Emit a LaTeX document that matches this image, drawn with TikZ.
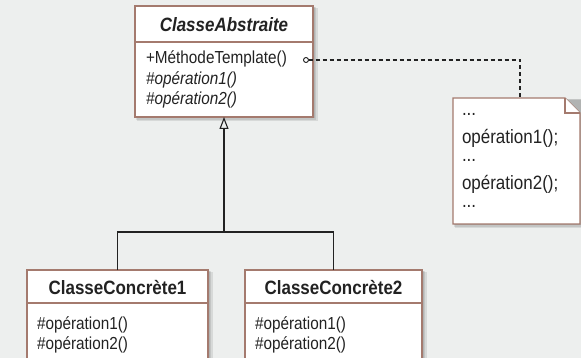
\documentclass[tikz,border=0pt]{standalone}
\usepackage{fontspec}
\setmainfont{Liberation Sans}[FakeStretch=0.88]
\usetikzlibrary{arrows.meta,shapes.misc}
\definecolor{bg}{HTML}{EDEFEE}
\definecolor{frame}{HTML}{A47A6E}
\definecolor{ink}{HTML}{222222}
\begin{document}
\begin{tikzpicture}[x=1pt,y=-1pt,
  every node/.style={inner sep=0pt, outer sep=0pt, text=ink},
  umlbox/.style={draw=frame, line width=1.2pt, fill=white, rectangle},
  shade/.style={fill=black, opacity=0.09},
  title/.style={font=\fontsize{19.3}{19}\selectfont\bfseries},
  member/.style={anchor=west, font=\fontsize{17.4}{18}\selectfont},
  notetext/.style={anchor=west, font=\fontsize{19.3}{19}\selectfont},
  link/.style={draw=ink, line width=1.1pt},
  hint/.style={draw=ink, line width=1.1pt, dash pattern=on 4pt off 3pt}]

% canvas
\fill[bg] (0,0) rectangle (581,358);
\useasboundingbox (0,0) rectangle (581,358);

% soft shadows under the boxes
\foreach \xa/\ya/\xb/\yb in {135/6/313/117, 27/270/208/362, 245/270/422/362, 453/98/580/224}{
  \fill[shade] (\xa+2,\ya+2) rectangle (\xb+4.5,\yb+4.5);
  \fill[shade] (\xa+1,\ya+1) rectangle (\xb+3,\yb+3);
  \fill[shade] (\xa+1,\ya+1) rectangle (\xb+1.5,\yb+1.5);
}

% abstract class
\node[umlbox, minimum width=178pt, minimum height=111pt] (abs) at (224,61.5) {};
\draw[frame, line width=1.2pt] (135,42) -- (313,42);
\node[title, font=\fontsize{19.3}{19}\selectfont\bfseries\itshape] (absT) at (224,25) {ClasseAbstraite};
\node[member] (m0) at (146,59) {+MéthodeTemplate()};
\node[member, font=\fontsize{17.4}{18}\selectfont\itshape] (m1) at (146,80) {\#opération1()};
\node[member, font=\fontsize{17.4}{18}\selectfont\itshape] (m2) at (146,100) {\#opération2()};

% concrete classes
\node[umlbox, minimum width=181pt, minimum height=92pt] (c1) at (117.5,316) {};
\draw[frame, line width=1.2pt] (27,303) -- (208,303);
\node[title] (c1T) at (117.5,288) {ClasseConcrète1};
\node[member] (c1a) at (37,325) {\#opération1()};
\node[member] (c1b) at (37,345) {\#opération2()};

\node[umlbox, minimum width=177pt, minimum height=92pt] (c2) at (333.5,316) {};
\draw[frame, line width=1.2pt] (245,303) -- (422,303);
\node[title] (c2T) at (333.5,288) {ClasseConcrète2};
\node[member] (c2a) at (255,325) {\#opération1()};
\node[member] (c2b) at (255,345) {\#opération2()};

% note with folded corner
\draw[frame, line width=1.2pt, fill=white] (453,98) -- (565,98) -- (580,113) -- (580,224) -- (453,224) -- cycle;
\draw[frame, line width=1.2pt, fill=white] (565,98) -- (565,113) -- (580,113);
\node[notetext] (n1) at (462,114) {...};
\node[notetext] (n2) at (462,138) {opération1();};
\node[notetext] (n3) at (462,160) {...};
\node[notetext] (n4) at (462,184) {opération2();};
\node[notetext] (n5) at (462,206) {...};
\coordinate (noteTop) at (520,98);

% inheritance
\coordinate (j) at (224,232);
\draw[link] (c1.north) |- (j) -| (c2.north);
\draw[link, -{Triangle[open, length=12pt, width=9pt, line width=1.1pt]}] (j) -- (abs.south);

% note anchor: small circle after the template method, dashed link to the note
\node[circle, draw=ink, line width=0.9pt, minimum size=5pt, fill=white] (dot) at (306,60) {};
\coordinate (bend) at (520,60);
\draw[hint] (dot.east) -- (bend) -- (noteTop);
\end{tikzpicture}
\end{document}
